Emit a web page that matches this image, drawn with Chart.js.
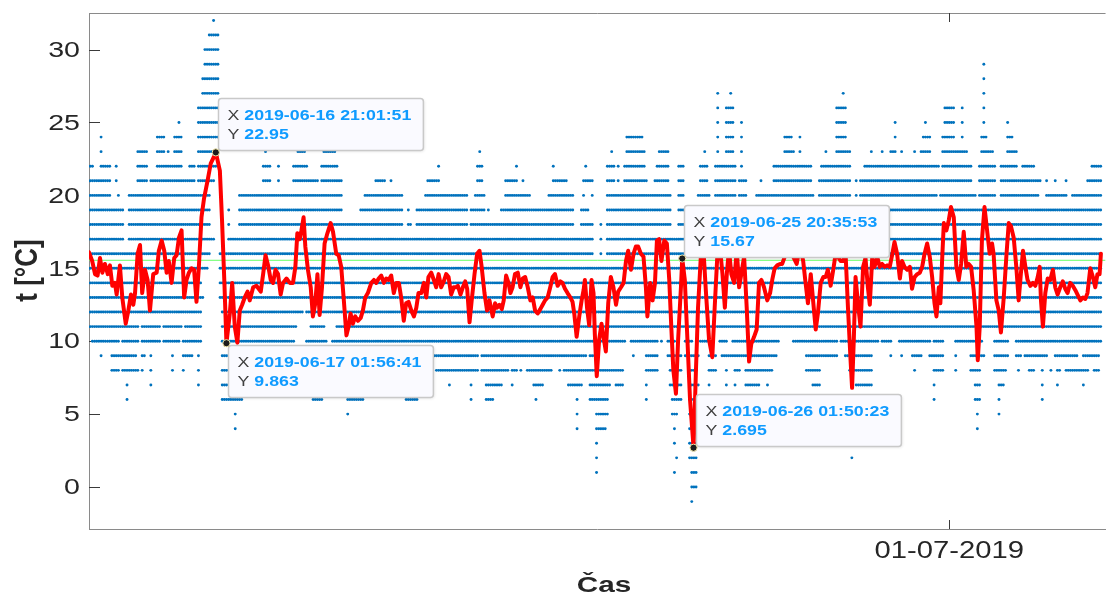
<!DOCTYPE html>
<html><head><meta charset="utf-8">
<script src="https://cdn.jsdelivr.net/npm/chart.js@4.4.1/dist/chart.umd.min.js"></script>
<style>html,body{margin:0;padding:0;background:#fff;overflow:hidden}#wrap{width:1107px;height:597px}</style>
</head><body><div id="wrap"><canvas id="c" width="1107" height="597"></canvas></div>
<script>
// Time unit: hours since 2019-06-14 00:00
const xTickHours = [408];
const xTickLabels = ['01-07-2019'];
const yTickValues = [0, 5, 10, 15, 20, 25, 30];
const meanTemp = 15.55;

// smoothed temperature (red line)
const lineHours = [10.4,11.9,13.2,14.4,15.5,16.6,17.8,19.1,20.1,21.2,22.4,23.2,24.7,25.8,27.4,28.6,29.8,30.9,31.7,32.9,34.0,35.0,36.3,37.5,38.6,40.1,41.7,42.7,44.0,45.2,46.3,47.3,48.6,49.8,50.9,52.0,53.2,54.4,55.5,56.6,57.8,59.0,60.1,61.2,62.4,63.6,65.2,66.7,68.3,69.03,70.9,71.9,73.0,73.94,75.5,76.6,77.8,79.0,80.1,81.2,82.4,83.7,84.7,86.3,87.8,89.8,90.9,92.0,93.2,94.4,95.5,96.6,97.8,99.0,100.1,101.7,103.2,104.7,105.8,106.7,107.8,108.6,109.6,110.4,111.6,112.9,113.9,115.0,116.0,117.0,118.1,119.3,120.6,122.1,123.2,124.7,125.8,127.0,128.2,129.4,130.4,131.3,132.4,133.5,134.7,136.0,137.0,138.1,139.3,140.9,142.1,143.2,144.3,145.5,146.7,147.8,148.9,150.1,151.3,152.4,153.6,154.7,155.9,157.0,158.1,159.4,160.6,161.7,162.7,164.0,165.2,166.3,167.3,168.6,169.8,170.9,172.0,173.2,174.4,175.5,176.6,177.8,179.0,180.1,180.9,182.1,183.2,184.3,185.2,186.3,187.3,188.6,189.8,190.9,191.9,193.2,194.4,195.5,197.0,198.1,199.0,200.1,201.2,202.1,203.2,204.3,205.2,206.2,207.3,208.6,209.8,210.9,212.0,213.2,214.4,215.5,216.6,217.8,219.0,220.1,221.2,222.4,223.6,224.7,225.8,227.0,228.3,229.3,230.4,231.6,232.9,233.9,234.7,235.8,237.0,238.1,239.0,239.6,240.6,241.6,242.7,243.6,244.2,245.1,246.2,247.3,248.2,249.3,250.4,251.6,252.8,254.0,255.0,256.3,257.5,258.6,259.6,260.9,262.1,263.2,264.2,265.5,266.7,267.8,268.5,269.8,270.9,272.0,272.9,273.9,275.0,276.3,277.5,278.6,279.6,280.5,281.7,282.7,284.0,284.6,285.8,287.0,288.2,289.84,290.9,291.9,293.2,294.2,295.5,297.0,298.5,299.6,300.8,302.0,303.2,304.3,305.2,306.2,307.3,308.6,309.8,310.9,311.9,313.2,314.4,315.5,316.5,317.8,319.0,320.1,321.2,322.4,323.9,325.2,326.2,327.3,328.5,329.8,330.8,332.0,333.2,334.7,336.2,337.5,338.6,339.6,340.5,341.6,342.7,344.0,345.2,346.3,347.3,348.6,349.8,350.9,351.9,353.2,354.4,355.5,356.6,357.8,359.0,360.1,361.2,362.4,363.1,363.9,364.7,365.8,367.0,368.2,369.3,370.4,371.3,372.4,373.5,374.7,375.9,377.0,378.1,379.3,380.5,381.6,382.7,383.9,385.2,386.2,387.3,388.5,389.8,390.8,392.0,393.2,394.4,395.5,396.6,397.8,399.0,400.1,401.2,402.1,403.2,403.9,404.7,405.5,406.7,407.8,408.8,410.1,411.3,412.4,413.5,414.7,415.9,417.0,418.1,419.3,420.6,421.2,422.1,423.1,424.3,425.5,426.7,427.8,428.5,429.8,430.9,431.9,433.2,434.4,435.5,436.5,437.8,439.0,440.1,441.1,442.1,443.2,444.2,445.5,446.7,447.8,448.9,449.8,450.4,451.3,452.4,453.5,454.7,455.9,457.0,458.1,459.3,460.5,461.6,462.7,463.9,465.1,466.3,467.3,468.6,469.8,470.9,471.9,473.2,474.4,475.5,476.5,477.5,478.1];
const lineTemps = [16.1,15.5,14.6,14.5,15.7,14.7,15.3,14.6,15.2,13.8,14.0,13.2,15.2,13.0,11.2,12.1,13.2,12.5,13.3,16.0,16.6,13.3,14.9,14.2,12.1,14.6,14.7,16.2,16.9,16.2,14.7,15.5,14.0,15.7,15.9,17.1,17.6,13.0,14.2,14.7,15.0,14.9,12.7,15.1,18.5,19.8,21.0,22.2,22.7,22.95,21.7,18.3,14.0,9.863,11.9,14.0,11.0,9.9,12.1,12.5,13.0,13.4,12.8,13.7,13.8,13.4,14.6,15.9,15.2,14.2,14.0,14.9,14.6,13.2,14.0,14.3,14.0,14.0,15.1,17.4,17.0,17.6,18.5,16.5,14.9,13.7,11.7,12.6,14.6,11.8,13.7,16.7,17.4,18.1,17.5,16.0,15.9,15.1,12.8,10.4,11.0,11.9,11.2,11.7,11.4,11.6,12.1,13.0,13.3,14.0,14.2,14.0,14.3,14.5,14.0,14.3,14.2,14.5,13.3,14.0,14.0,13.0,11.4,12.6,12.7,12.1,11.7,12.3,13.3,13.3,14.0,13.0,14.4,14.7,14.2,13.7,14.6,13.7,14.1,14.6,14.4,13.2,13.7,13.7,13.8,13.2,13.7,14.1,13.6,11.3,12.8,14.6,16.0,16.2,15.1,13.3,12.1,12.8,11.7,12.6,12.3,12.5,12.2,12.8,14.5,14.0,13.3,13.7,14.6,14.7,13.7,14.3,14.4,13.7,12.8,13.0,12.1,11.9,12.2,12.5,12.8,13.0,13.7,14.4,14.6,13.8,14.1,14.0,13.6,13.3,13.0,12.7,11.9,10.3,11.7,12.8,13.5,14.2,12.3,11.1,14.2,13.3,10.5,7.6,10.1,11.2,10.3,9.3,12.6,14.4,13.7,12.5,13.4,13.7,14.0,15.5,16.2,14.9,16.0,16.5,16.5,16.0,15.8,13.7,11.7,14.0,12.8,14.0,16.9,17.0,15.5,16.9,16.7,14.2,10.8,8.0,6.4,10.1,13.7,15.67,14.2,10.1,6.0,2.695,7.8,12.3,15.8,16.8,13.5,10.1,8.9,12.3,15.8,16.5,14.6,12.3,14.6,16.3,14.6,14.0,16.3,13.7,14.6,15.8,12.3,8.6,9.8,10.3,10.8,14.0,14.2,13.7,12.8,13.3,14.2,15.0,15.2,15.3,15.3,15.8,16.2,16.2,15.7,15.3,16.2,16.1,15.5,14.0,12.6,14.6,12.6,10.8,11.9,14.0,14.4,14.4,14.9,13.8,14.9,16.0,15.8,15.5,15.5,16.0,12.3,8.7,6.8,10.1,14.4,12.6,11.0,15.1,15.7,13.7,12.5,15.7,15.1,15.8,15.1,15.3,15.1,15.2,15.1,15.9,16.8,16.0,14.3,15.5,15.1,14.9,15.1,13.6,14.4,14.6,14.7,15.1,16.0,16.7,15.8,14.4,12.6,11.7,13.7,12.6,15.5,18.1,17.6,18.3,19.2,18.5,15.1,14.2,15.3,17.5,15.1,15.3,15.1,13.5,11.0,8.7,11.0,16.9,19.2,17.6,16.0,16.7,16.0,12.8,12.1,10.6,13.0,15.8,18.1,17.9,17.1,15.1,12.8,14.6,16.2,15.1,14.2,13.8,14.0,13.8,14.4,15.1,12.8,11.0,13.3,14.3,14.2,14.9,13.7,13.2,13.7,14.1,13.6,13.3,14.0,13.8,13.5,13.2,12.8,13.0,12.9,13.3,15.0,14.4,13.7,14.6,14.6,16.0];

// data tips
const tipHours = [69.03, 73.94, 284.6, 289.84];
const tipTemps = [22.95, 9.863, 15.67, 2.695];
const tipXLabels = ['2019-06-16 21:01:51', '2019-06-17 01:56:41', '2019-06-25 20:35:53', '2019-06-26 01:50:23'];
const tipYLabels = ['22.95', '9.863', '15.67', '2.695'];
const tipSides = ['up', 'down', 'up', 'up'];

// raw readings (integer °C), hourly samples, given as runs [fromHour, toHour] per level
const dotTemps = [32,31,30,29,28,27,26,25,24,23,22,21,20,19,18,17,16,15,14,13,12,11,10,9,8,7,6,5,4,3,2,1,0,-1];
const dotRuns = [
 [[68,68]],
 [[66,70]],
 [[64,70]],
 [[64,70],[424,424]],
 [[63,70],[424,424]],
 [[63,70],[301,301],[307,307],[359,359],[424,424]],
 [[61,70],[301,301],[305,308],[356,360],[406,410],[414,414],[424,424]],
 [[52,52],[61,70],[301,301],[305,308],[312,312],[356,360],[383,383],[397,397],[406,410],[414,414],[424,424],[435,435]],
 [[16,16],[42,45],[50,53],[61,70],[259,266],[301,301],[305,308],[312,312],[332,335],[339,339],[356,360],[383,383],[396,399],[405,410],[414,414],[423,425],[435,437]],
 [[16,16],[33,37],[42,45],[47,47],[50,53],[61,68],[92,92],[107,110],[119,124],[191,191],[252,252],[259,267],[274,278],[295,295],[301,301],[305,308],[312,312],[332,336],[339,339],[351,351],[356,362],[372,372],[377,377],[381,383],[386,386],[392,392],[395,399],[405,411],[412,416],[423,428],[435,439]],
 [[10,12],[16,20],[23,23],[33,37],[42,53],[57,59],[61,69],[91,94],[98,98],[105,111],[118,125],[172,172],[190,192],[208,208],[225,225],[240,240],[250,253],[255,255],[258,267],[273,278],[283,285],[293,296],[300,309],[312,312],[327,344],[349,362],[369,403],[405,411],[412,418],[422,429],[432,439],[442,447],[474,478]],
 [[10,20],[23,23],[33,37],[39,59],[61,68],[91,94],[98,98],[105,116],[118,127],[143,147],[150,150],[167,172],[190,192],[203,208],[211,211],[225,231],[239,243],[250,253],[255,255],[258,268],[272,278],[283,285],[293,296],[300,309],[311,314],[321,321],[327,344],[348,362],[365,365],[367,403],[404,411],[412,418],[422,429],[432,450],[453,453],[457,457],[462,462],[472,478]],
 [[10,20],[24,24],[29,66],[80,127],[138,155],[166,185],[189,193],[203,214],[223,234],[239,239],[243,243],[250,267],[268,279],[283,285],[292,297],[300,309],[311,314],[319,345],[348,362],[365,365],[367,402],[404,420],[422,429],[432,449],[453,462],[465,478]],
 [[10,26],[29,66],[75,75],[80,127],[136,155],[158,158],[162,185],[187,193],[195,195],[201,234],[238,241],[250,279],[283,285],[292,478]],
 [[10,26],[29,66],[75,75],[80,155],[158,159],[162,185],[187,234],[238,243],[247,247],[250,279],[283,285],[292,478]],
 [[10,26],[29,68],[75,243],[247,247],[250,478]],
 [[10,66],[71,243],[247,247],[250,478]],
 [[10,65],[71,478]],
 [[10,62],[71,478]],
 [[10,63],[71,478]],
 [[10,62],[72,109],[111,478]],
 [[10,33],[35,43],[45,53],[55,62],[72,106],[113,119],[125,478]],
 [[12,24],[26,33],[35,43],[45,52],[54,62],[72,105],[111,120],[123,258],[261,265],[266,273],[275,275],[278,281],[286,289],[293,297],[302,305],[308,329],[336,356],[358,375],[377,381],[385,399],[401,405],[411,423],[429,435],[439,478]],
 [[16,16],[21,32],[35,36],[39,39],[49,49],[54,58],[61,61],[72,75],[169,190],[192,240],[242,245],[262,262],[268,273],[278,284],[286,292],[297,300],[303,328],[342,356],[360,372],[381,381],[386,386],[391,395],[399,405],[411,411],[418,424],[429,435],[439,441],[443,453],[457,467],[470,477]],
 [[21,24],[26,33],[35,35],[39,39],[49,49],[54,54],[61,61],[72,75],[171,176],[177,190],[192,204],[206,208],[210,210],[213,224],[228,228],[230,257],[268,273],[279,284],[288,291],[297,300],[305,305],[309,311],[314,326],[342,348],[362,372],[392,392],[401,405],[411,411],[418,422],[429,434],[440,440],[445,447],[451,451],[455,455],[458,459],[462,472],[475,477]],
 [[28,28],[39,39],[61,61],[72,76],[177,177],[187,187],[194,201],[206,206],[216,220],[232,238],[242,251],[254,257],[268,268],[279,284],[288,292],[297,297],[305,305],[309,309],[314,320],[324,324],[345,348],[365,372],[401,401],[420,422],[431,433],[451,451],[458,458],[470,470]],
 [[28,28],[72,81],[114,118],[130,137],[157,162],[187,187],[194,197],[217,217],[236,236],[242,250],[268,268],[280,284],[288,292],[401,401],[420,422],[431,431],[451,451]],
 [[78,78],[130,130],[236,236],[245,250],[280,282],[288,288],[421,421],[431,431]],
 [[78,78],[236,236],[245,249],[281,281],[288,290],[421,421]],
 [[245,245],[281,281],[288,291]],
 [[245,245],[282,282],[288,291],[363,363]],
 [[245,245],[281,281],[289,291]],
 [[289,291]],
 [[289,289]]
];

const X_MIN = 10.42, X_MAX = 480.25, Y_MIN = -2.88, Y_MAX = 32.51;
const STRETCH = 1.27;
const FONT = '"Liberation Sans", Arial, Helvetica, sans-serif';

const dotPoints = [];
dotTemps.forEach((t, i) => dotRuns[i].forEach(([s, e]) => { for (let h = s; h <= e; h++) dotPoints.push({x: h, y: t}); }));
const linePoints = lineHours.map((h, i) => ({x: h, y: lineTemps[i]}));

function sText(ctx, text, x, y, align, font, color, sx) {
  sx = sx || STRETCH;
  ctx.save();
  ctx.font = font; ctx.fillStyle = color; ctx.textAlign = 'left';
  const w = ctx.measureText(text).width * sx;
  const x0 = align === 'center' ? x - w / 2 : (align === 'right' ? x - w : x);
  ctx.translate(x0, y); ctx.scale(sx, 1);
  ctx.fillText(text, 0, 0);
  ctx.restore();
  return w;
}
function rr(ctx, x, y, w, h, r) {
  ctx.beginPath();
  ctx.moveTo(x + r, y); ctx.lineTo(x + w - r, y); ctx.arcTo(x + w, y, x + w, y + r, r);
  ctx.lineTo(x + w, y + h - r); ctx.arcTo(x + w, y + h, x + w - r, y + h, r);
  ctx.lineTo(x + r, y + h); ctx.arcTo(x, y + h, x, y + h - r, r);
  ctx.lineTo(x, y + r); ctx.arcTo(x, y, x + r, y, r); ctx.closePath();
}

const overlay = {
  id: 'overlay',
  beforeDatasetsDraw(chart) {
    const {ctx, chartArea: a, scales: {x, y}} = chart;
    ctx.save();
    ctx.strokeStyle = '#8a8a8a'; ctx.lineWidth = 1;
    ctx.beginPath(); ctx.moveTo(a.left, a.top + 0.5); ctx.lineTo(a.right, a.top + 0.5); ctx.stroke();
    ctx.strokeStyle = '#3a3a3a';
    ctx.beginPath();
    yTickValues.forEach(v => { const py = Math.round(y.getPixelForValue(v)) + 0.5; ctx.moveTo(a.left, py); ctx.lineTo(a.left + 11, py); });
    xTickHours.forEach(v => { const px = Math.round(x.getPixelForValue(v)) + 0.5; ctx.moveTo(px, a.bottom); ctx.lineTo(px, a.bottom - 9); ctx.moveTo(px, a.top); ctx.lineTo(px, a.top + 9); });
    ctx.stroke();
    ctx.restore();
  },
  afterDatasetsDraw(chart) {
    const {ctx, scales: {x, y}} = chart;
    tipHours.forEach((h, i) => {
      const px = x.getPixelForValue(h), py = y.getPixelForValue(tipTemps[i]);
      ctx.save();
      const fsz = 14;
      const bold = `bold ${fsz}px ${FONT}`, norm = `${fsz}px ${FONT}`;
      ctx.font = bold;
      const vw = Math.max(ctx.measureText(tipXLabels[i]).width, ctx.measureText(tipYLabels[i]).width) * STRETCH;
      ctx.font = norm;
      const lw = ctx.measureText('X ').width * STRETCH;
      const w = 9 + lw + vw + 12, hgt = 52;
      const bx = Math.round(px + 2) + 0.5;
      const by = Math.round(tipSides[i] === 'up' ? py - 2 - hgt : py + 2) + 0.5;
      ctx.shadowColor = 'rgba(0,0,0,0.12)'; ctx.shadowBlur = 3; ctx.shadowOffsetX = 1; ctx.shadowOffsetY = 1;
      rr(ctx, bx, by, w, hgt, 3);
      ctx.fillStyle = '#fafaff'; ctx.fill();
      ctx.shadowColor = 'transparent';
      ctx.strokeStyle = '#c9c9c9'; ctx.lineWidth = 1.5; ctx.stroke();
      ctx.textBaseline = 'middle';
      const tx = bx + 9;
      sText(ctx, 'X', tx, by + 17.5, 'left', norm, '#404040');
      sText(ctx, tipXLabels[i], tx + lw, by + 17.5, 'left', bold, '#0f9bff');
      sText(ctx, 'Y', tx, by + 36.5, 'left', norm, '#404040');
      sText(ctx, tipYLabels[i], tx + lw, by + 36.5, 'left', bold, '#0f9bff');
      ctx.restore();
      ctx.save();
      ctx.beginPath(); ctx.arc(px, py, 3.6, 0, Math.PI * 2);
      ctx.fillStyle = '#1c1c1c'; ctx.fill();
      ctx.strokeStyle = '#efe6a8'; ctx.lineWidth = 1; ctx.stroke();
      ctx.restore();
    });
  },
  afterDraw(chart) {
    const {ctx, chartArea: a, scales: {x, y}} = chart;
    ctx.save();
    ctx.textBaseline = 'middle';
    yTickValues.forEach(v => sText(ctx, String(v), a.left - 9, y.getPixelForValue(v) + 1, 'right', `22.5px ${FONT}`, '#262626'));
    xTickHours.forEach((v, i) => sText(ctx, xTickLabels[i], x.getPixelForValue(v), 552, 'center', `23px ${FONT}`, '#262626'));
    ctx.textBaseline = 'alphabetic';
    sText(ctx, 'Čas', 604, 592, 'center', `bold 22px ${FONT}`, '#262626', 1.35);
    ctx.save();
    ctx.translate(37, 270.5);
    ctx.scale(1.2, 1);
    ctx.rotate(-Math.PI / 2);
    ctx.font = `bold 26px ${FONT}`; ctx.fillStyle = '#262626'; ctx.textAlign = 'center';
    ctx.fillText('t [°C]', 0, 0);
    ctx.restore();
    ctx.restore();
  }
};

new Chart(document.getElementById('c'), {
  type: 'scatter',
  data: {
    datasets: [
      {label: 'smooth', type: 'line', data: linePoints, borderColor: '#ff0000', borderWidth: 4, pointRadius: 0, tension: 0, fill: false, borderJoinStyle: 'round', borderCapStyle: 'round', order: 1},
      {label: 'mean', type: 'line', data: [{x: X_MIN, y: meanTemp}, {x: X_MAX, y: meanTemp}], borderColor: '#66ff66', borderWidth: 1, pointRadius: 0, fill: false, order: 2},
      {label: 'raw', data: dotPoints, pointRadius: 1.45, pointBackgroundColor: '#0072bd', pointBorderWidth: 0, pointHoverRadius: 0, order: 3}
    ]
  },
  options: {
    responsive: false, animation: false, devicePixelRatio: 1,
    events: [],
    layout: {padding: {left: 89, right: 0, top: 13, bottom: 68}},
    plugins: {legend: {display: false}, tooltip: {enabled: false}},
    scales: {
      x: {type: 'linear', min: X_MIN, max: X_MAX, grid: {display: false, drawTicks: false}, ticks: {display: false}, border: {display: true, color: '#8a8a8a', width: 1}},
      y: {type: 'linear', min: Y_MIN, max: Y_MAX, grid: {display: false, drawTicks: false}, ticks: {display: false}, border: {display: true, color: '#8a8a8a', width: 1}}
    }
  },
  plugins: [overlay]
});
</script></body></html>
